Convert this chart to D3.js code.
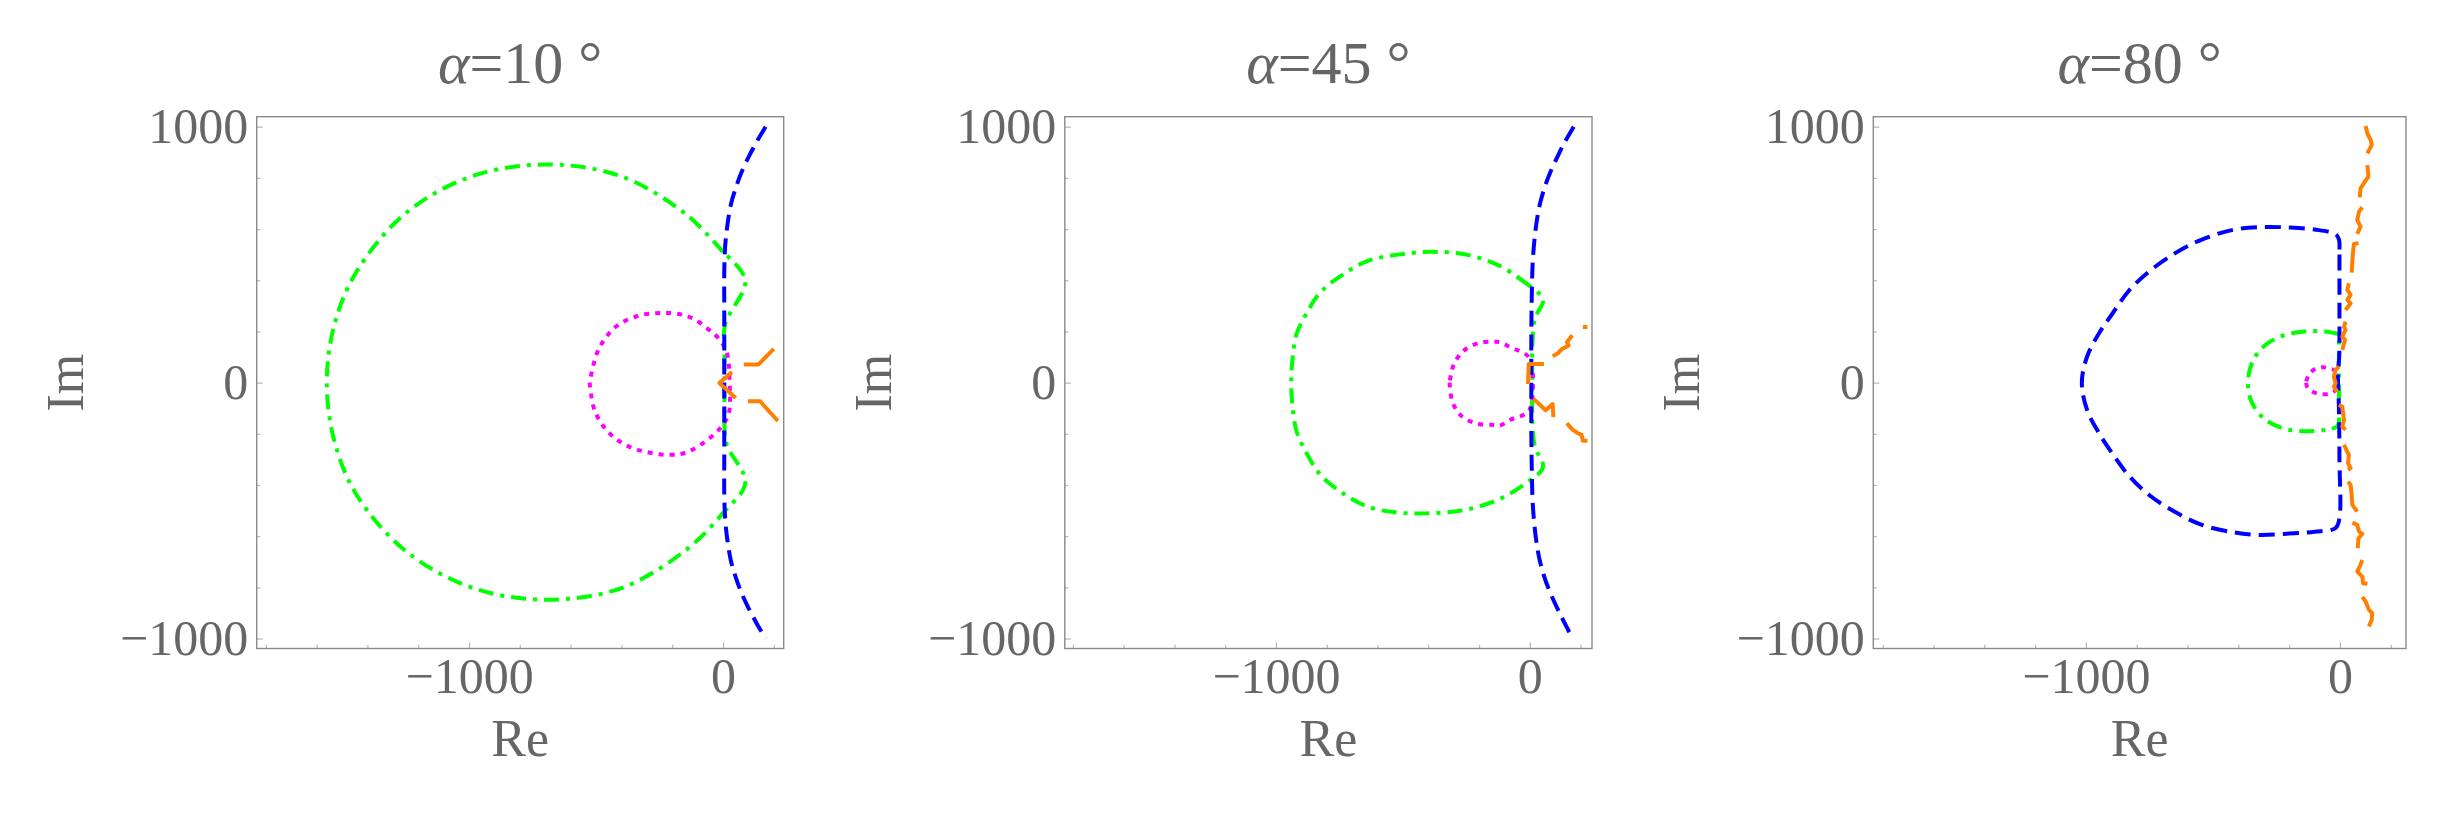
<!DOCTYPE html>
<html>
<head>
<meta charset="utf-8">
<script src="https://cdn.jsdelivr.net/npm/d3@7"></script>
<style>
body { margin: 0; background: #fff; }
svg { display: block; }
</style>
</head>
<body>
<svg id="chart"></svg>
<script>
// alpha of each panel (degrees)
var alphas = ["10", "45", "80"];

var xMajorTicks = [-1000, 0];
var xMinorTicks = [-1800, -1600, -1400, -1200, -800, -600, -400, -200, 200];
var yMajorTicks = [-1000, 0, 1000];
var yMinorTicks = [-800, -600, -400, -200, 200, 400, 600, 800];

// alpha = 10
var blue10 = [[168,1000],[132,940],[100,880],[72,820],[50,760],[32,700],[18,620],[9,540],[5,440],[5,300],[5,150],[5,0],[5,-150],[5,-300],[5,-440],[9,-540],[18,-620],[32,-700],[50,-760],[72,-820],[100,-880],[132,-940],[168,-1000]];
var green10 = [[0,510],[-147,659],[-406,808],[-700,852],[-992,805],[-1253,659],[-1445,430],[-1531,223],[-1560,0],[-1531,-225],[-1445,-435],[-1253,-655],[-992,-800],[-707,-848],[-406,-805],[-147,-655],[0,-510],[88,-390],[13,-237],[6,-100],[6,0],[6,100],[8,226],[88,400],[0,510]];
var magenta10 = [[-525,0],[-505,-110],[-450,-195],[-370,-250],[-250,-280],[-168,-279],[-126,-265],[-71,-231],[-29,-197],[6,-156],[24,-115],[28,-60],[26,0],[24,60],[15,117],[-1,151],[-29,185],[-64,213],[-112,247],[-168,267],[-241,272],[-330,262],[-420,220],[-490,130],[-525,0]];
var orange10 = [
  [[200,132],[140,71],[82,71]],
  [[35,41],[-14,-2],[50,-60]],
  [[98,-73],[146,-73],[216,-150]]
];

// alpha = 45
var blue45 = [[173,1000],[135,935],[110,885],[80,820],[58,762],[38,690],[23,600],[12,480],[8,350],[6,200],[6,0],[6,-200],[8,-350],[12,-480],[23,-600],[38,-690],[58,-762],[80,-820],[110,-885],[135,-935],[168,-1000]];
var green45 = [[-4,380],[-118,456],[-250,500],[-389,511],[-520,500],[-638,476],[-740,420],[-825,353],[-880,270],[-919,190],[-935,90],[-940,0],[-935,-90],[-919,-190],[-880,-275],[-825,-360],[-740,-430],[-638,-485],[-520,-508],[-410,-511],[-270,-500],[-130,-460],[-4,-385],[52,-330],[20,-250],[10,-150],[10,0],[10,150],[20,250],[52,325],[-4,380]];
var magenta45 = [[-316,0],[-305,-75],[-270,-130],[-210,-160],[-150,-165],[-118,-168],[-76,-145],[-7,-115],[10,-60],[12,0],[10,50],[-7,103],[-76,138],[-118,158],[-139,160],[-200,155],[-260,125],[-300,70],[-316,0]];
var orange45 = [
  [[209,217],[227,217]],
  [[167,185],[146,158],[153,145],[125,130],[111,115],[90,103]],
  [[56,73],[-4,73],[-7,-6]],
  [[14,-63],[63,-108],[90,-84],[93,-135]],
  [[146,-159],[167,-183],[188,-197],[204,-204],[209,-227],[227,-227]]
];

// alpha = 80
var blue80 = [[-2,520],[-4,560],[-17,580],[-100,598],[-200,606],[-300,608],[-420,597],[-546,558],[-650,505],[-750,435],[-830,360],[-894,272],[-950,190],[-996,100],[-1016,0],[-996,-105],[-950,-195],[-894,-280],[-830,-365],[-750,-440],[-650,-505],[-546,-555],[-420,-585],[-321,-595],[-200,-590],[-100,-583],[-17,-568],[-2,-530],[-2,-300],[-4,-100],[-8,40],[-3,100],[-2,300],[-2,520]];
var green80 = [[-4,190],[-60,200],[-137,200],[-220,185],[-290,150],[-340,90],[-362,10],[-350,-70],[-300,-140],[-220,-180],[-137,-190],[-60,-185],[-10,-170],[-4,-100],[-4,0],[-4,100],[-4,190]];
var magenta80 = [[-133,5],[-120,35],[-95,55],[-69,60],[-40,55],[-17,45],[-10,10],[-14,-25],[-35,-42],[-75,-45],[-110,-35],[-130,-15],[-133,5]];
var orange80 = [
  [[101,1003],[108,974],[121,948],[125,929],[108,896]],
  [[108,850],[112,805],[94,779],[81,759],[78,724]],
  [[88,685],[75,668],[68,636],[81,609],[68,581]],
  [[73,545],[55,542],[51,505],[46,430]],
  [[35,388],[29,362],[42,343],[29,323],[42,310],[22,284]],
  [[22,238],[16,219],[22,206],[9,180],[20,167],[9,128]],
  [[-4,63],[-17,50],[-24,23],[-17,-2],[-24,-16],[-11,-35]],
  [[-4,-87],[9,-94],[16,-146],[9,-172],[22,-185]],
  [[16,-243],[22,-256],[35,-282],[32,-315],[42,-334],[32,-341]],
  [[32,-387],[42,-400],[46,-439],[49,-478],[68,-504]],
  [[49,-547],[68,-556],[75,-582],[88,-591],[73,-608],[70,-647]],
  [[88,-693],[78,-719],[68,-738],[88,-758],[91,-784],[108,-786]],
  [[88,-838],[101,-855],[114,-888],[127,-901],[125,-927],[114,-953]]
];

var panelData = [
  {blue: blue10, green: green10, magenta: magenta10, orange: orange10},
  {blue: blue45, green: green45, magenta: magenta45, orange: orange45},
  {blue: blue80, green: green80, magenta: magenta80, orange: orange80}
];

var width = 2444;
var height = 813;
var textColor = "#666666";
var fontFamily = "'Liberation Serif', 'Times New Roman', serif";
var lineWidth = 4;

// frame placement of each panel
var frames = [
  {left: 256.7, right: 783.7, xDomain: [-1836, 239]},
  {left: 1064.8, right: 1592, xDomain: [-1832, 245]},
  {left: 1873.3, right: 2406, xDomain: [-1837, 260]}
];
var frameTop = 116.7;
var frameBottom = 648.5;

var svg = d3.select("#chart")
  .attr("width", width)
  .attr("height", height);

var drawPanel = function(i)
{
  var f = frames[i];
  var data = panelData[i];

  var x = d3.scaleLinear().domain(f.xDomain).range([f.left, f.right]);
  var y = d3.scaleLinear().domain([-1039, 1039]).range([frameBottom, frameTop]);

  var g = svg.append("g");

  // minor ticks
  g.append("g")
    .attr("transform", "translate(0," + frameBottom + ")")
    .call(d3.axisBottom(x).tickValues(xMinorTicks).tickSize(-3.5).tickFormat(""))
    .call(function(a){ a.select(".domain").remove(); });
  g.append("g")
    .attr("transform", "translate(" + f.left + ",0)")
    .call(d3.axisLeft(y).tickValues(yMinorTicks).tickSize(-3.5).tickFormat(""))
    .call(function(a){ a.select(".domain").remove(); });

  // major ticks with labels
  var xAxis = g.append("g")
    .attr("transform", "translate(0," + frameBottom + ")")
    .call(d3.axisBottom(x).tickValues(xMajorTicks).tickSize(-6).tickPadding(9).tickFormat(d3.format("d")));
  var yAxis = g.append("g")
    .attr("transform", "translate(" + f.left + ",0)")
    .call(d3.axisLeft(y).tickValues(yMajorTicks).tickSize(-6).tickPadding(8.5).tickFormat(d3.format("d")));

  [xAxis, yAxis].forEach(function(a)
  {
    a.select(".domain").remove();
    a.selectAll("text")
      .attr("font-family", fontFamily)
      .attr("font-size", "50px")
      .attr("fill", textColor);
  });
  g.selectAll(".tick line").attr("stroke", "#b5b5b5").attr("stroke-width", 1.2);

  // frame
  g.append("rect")
    .attr("x", f.left)
    .attr("y", frameTop)
    .attr("width", f.right - f.left)
    .attr("height", frameBottom - frameTop)
    .attr("fill", "none")
    .attr("stroke", "#8a8a8a")
    .attr("stroke-width", 1.4);

  var smooth = d3.line()
    .x(function(d){ return x(d[0]); })
    .y(function(d){ return y(d[1]); })
    .curve(d3.curveCatmullRom.alpha(0.5));
  var straight = d3.line()
    .x(function(d){ return x(d[0]); })
    .y(function(d){ return y(d[1]); });

  g.append("path")
    .attr("d", smooth(data.green))
    .attr("fill", "none")
    .attr("stroke", "#00ff00")
    .attr("stroke-width", lineWidth)
    .attr("stroke-dasharray", "15,7,4,7");

  g.append("path")
    .attr("d", smooth(data.magenta))
    .attr("fill", "none")
    .attr("stroke", "#ff00ff")
    .attr("stroke-width", lineWidth)
    .attr("stroke-dasharray", "5,6");

  g.append("path")
    .attr("d", smooth(data.blue))
    .attr("fill", "none")
    .attr("stroke", "#0000ff")
    .attr("stroke-width", lineWidth)
    .attr("stroke-dasharray", "16,8");

  g.selectAll(".orange")
    .data(data.orange)
    .enter()
    .append("path")
    .attr("class", "orange")
    .attr("d", function(d){ return straight(d); })
    .attr("fill", "none")
    .attr("stroke", "#ff8000")
    .attr("stroke-width", lineWidth)
    .attr("stroke-linejoin", "round");

  // title
  var cx = (f.left + f.right) / 2;
  var title = g.append("text")
    .attr("x", cx)
    .attr("y", 83)
    .attr("text-anchor", "middle")
    .attr("font-family", fontFamily)
    .attr("font-size", "60px")
    .attr("fill", textColor);
  title.append("tspan").attr("font-style", "italic").text("\u03b1");
  title.append("tspan").text("=" + alphas[i] + " \u00b0");

  // axis labels
  g.append("text")
    .attr("x", cx)
    .attr("y", 756)
    .attr("text-anchor", "middle")
    .attr("font-family", fontFamily)
    .attr("font-size", "52px")
    .attr("fill", textColor)
    .text("Re");

  g.append("text")
    .attr("transform", "translate(" + (f.left - 192 + 18) + "," + 382.6 + ") rotate(-90)")
    .attr("text-anchor", "middle")
    .attr("font-family", fontFamily)
    .attr("font-size", "52px")
    .attr("fill", textColor)
    .text("Im");
};

for (var i = 0; i < 3; i++)
{
  drawPanel(i);
}
</script>
</body>
</html>
